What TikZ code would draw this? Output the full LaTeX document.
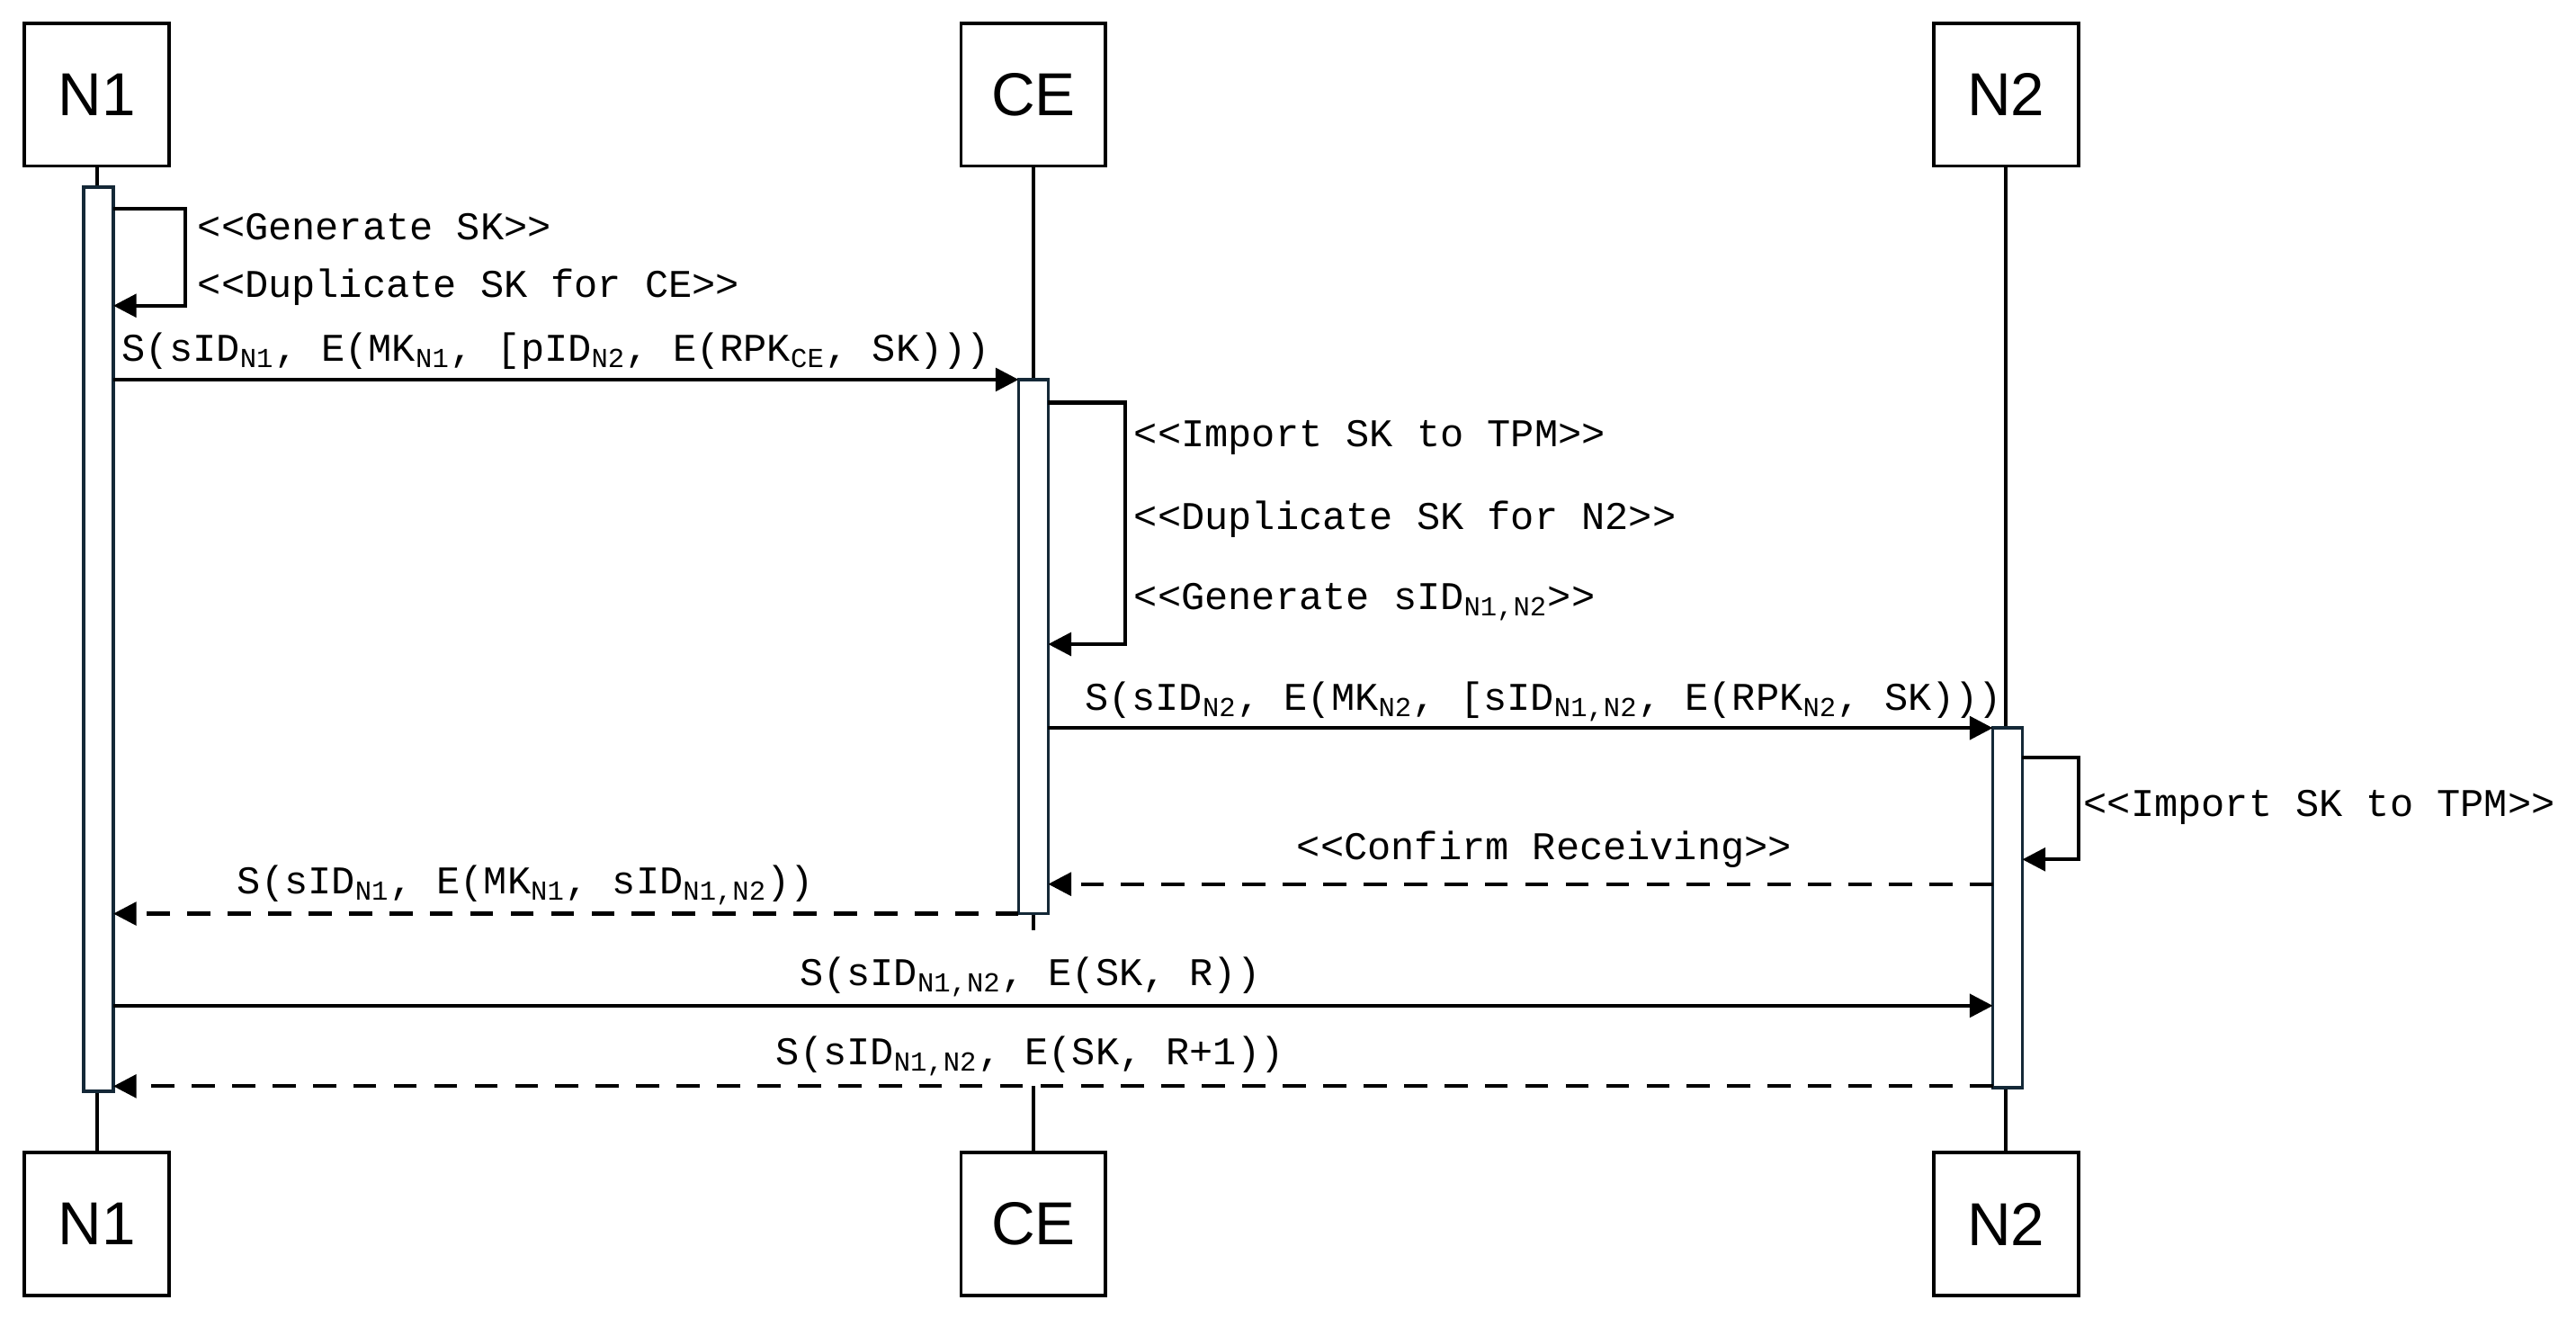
\documentclass[tikz,border=0pt]{standalone}
\usepackage{fontspec}
\setmainfont{Liberation Sans}
\setmonofont{Liberation Mono}
\usetikzlibrary{arrows.meta}
\newcommand{\mysub}[1]{\textsubscript{#1}}
\definecolor{actc}{RGB}{20,40,55}
\begin{document}
\begin{tikzpicture}[x=0.02cm,y=-0.02cm,
  head/.style={draw,line width=1.2pt,minimum width=1.76cm,minimum height=1.74cm,inner sep=0,font=\fontsize{21}{24}\selectfont},
  act/.style={draw=actc,line width=1.1pt,fill=white},
  life/.style={line width=1.1pt},
  msg/.style={line width=1.3pt,-{Triangle[length=8pt,width=8pt]}},
  ret/.style={msg,dash pattern=on 8pt off 6pt},
  lbl/.style={font=\ttfamily\fontsize{13.6}{15}\selectfont,inner sep=0}]
\useasboundingbox (0,0) rectangle (1568,802);
\node[head] (n1t) at (59,57.5) {N1};
\node[head] (cet) at (629,57.5) {CE};
\node[head] (n2t) at (1221,57.5) {N2};
\node[head] (n1b) at (59,745) {N1};
\node[head] (ceb) at (629,745) {CE};
\node[head] (n2b) at (1221,745) {N2};
\draw[life] (n1t) -- (n1b);
\draw[life] (n2t) -- (n2b);
\draw[life] (cet.south) -- (629,566);
\draw[life] (629,661) -- (ceb.north);
\draw[act] (51,114) rectangle (69,664);
\draw[act] (620,231) rectangle (638,556);
\draw[act] (1213,443) rectangle (1231,662);
% N1 self
\draw[msg] (69,127) -- (113,127) -- (113,186) -- (69,186);
\node[lbl,anchor=base west] at (120,146) {<{}<Generate SK>{}>};
\node[lbl,anchor=base west] at (120,181) {<{}<Duplicate SK for CE>{}>};
% m1
\coordinate (a1) at (69,231); \coordinate (b1) at (620,231);
\draw[msg] (a1) -- (b1);
\node[lbl,anchor=base west] at (74,220) {S(sID\mysub{N1}, E(MK\mysub{N1}, [pID\mysub{N2}, E(RPK\mysub{CE}, SK)))};
% CE self
\draw[msg] (638,245) -- (685,245) -- (685,392) -- (638,392);
\node[lbl,anchor=base west] at (690,272) {<{}<Import SK to TPM>{}>};
\node[lbl,anchor=base west] at (690,322) {<{}<Duplicate SK for N2>{}>};
\node[lbl,anchor=base west] at (690,371) {<{}<Generate sID\mysub{N1,N2}>{}>};
% m2
\draw[msg] (638,443) -- (1213,443);
\node[lbl,anchor=base west] at (660,432) {S(sID\mysub{N2}, E(MK\mysub{N2}, [sID\mysub{N1,N2}, E(RPK\mysub{N2}, SK)))};
% N2 self
\draw[msg] (1231,461) -- (1265,461) -- (1265,523) -- (1231,523);
\node[lbl,anchor=base west] at (1268,497) {<{}<Import SK to TPM>{}>};
% returns
\draw[ret] (1213,538) -- (638,538);
\node[lbl,anchor=base] at (940,523) {<{}<Confirm Receiving>{}>};
\draw[ret] (620,556) -- (69,556);
\node[lbl,anchor=base] at (320,544) {S(sID\mysub{N1}, E(MK\mysub{N1}, sID\mysub{N1,N2}))};
\draw[msg] (69,612) -- (1213,612);
\node[lbl,anchor=base] at (627,600) {S(sID\mysub{N1,N2}, E(SK, R))};
\draw[ret] (1213,661) -- (69,661);
\node[lbl,anchor=base] at (627,648) {S(sID\mysub{N1,N2}, E(SK, R+1))};
\end{tikzpicture}
\end{document}
